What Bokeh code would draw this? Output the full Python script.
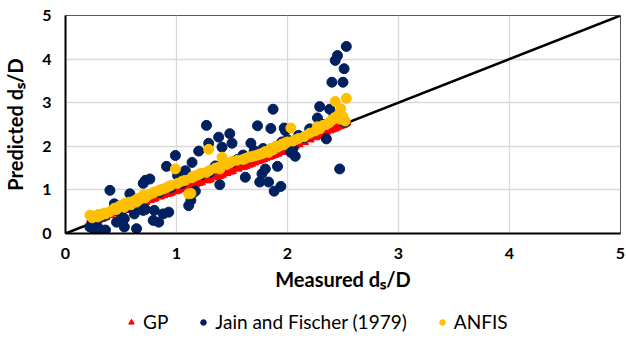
from bokeh.plotting import figure
from bokeh.layouts import column
from bokeh.models import Range1d, Legend, LegendItem, FixedTicker
from bokeh.embed import file_html
from bokeh.resources import INLINE

measured = [0.22, 0.24, 0.26, 0.29, 0.30, 0.32, 0.35, 0.36, 0.40, 0.44,
            0.46, 0.48, 0.50, 0.53, 0.53, 0.55, 0.58, 0.59, 0.62, 0.64,
            0.65, 0.67, 0.70, 0.70, 0.72, 0.72, 0.76, 0.79, 0.80, 0.84,
            0.85, 0.88, 0.91, 0.93, 0.95, 0.99, 1.01, 1.05, 1.08, 1.11,
            1.13, 1.14, 1.14, 1.17, 1.20, 1.22, 1.27, 1.29, 1.30, 1.35,
            1.38, 1.39, 1.41, 1.45, 1.48, 1.50, 1.55, 1.60, 1.62, 1.65,
            1.67, 1.70, 1.73, 1.75, 1.77, 1.78, 1.80, 1.83, 1.85, 1.87,
            1.88, 1.90, 1.91, 1.94, 1.95, 1.97, 1.98, 2.00, 2.03, 2.05,
            2.07, 2.10, 2.15, 2.20, 2.25, 2.27, 2.29, 2.32, 2.35, 2.38,
            2.40, 2.42, 2.43, 2.45, 2.47, 2.48, 2.50, 2.51, 2.52, 2.53]

jain_fischer = [0.15, 0.30, 0.08, 0.15, 0.35, 0.07, 0.40, 0.08, 0.99, 0.68,
                0.26, 0.55, 0.45, 0.34, 0.15, 0.60, 0.91, 0.60, 0.45, 0.11,
                0.75, 0.60, 1.15, 0.53, 1.22, 0.55, 1.25, 0.30, 0.53, 0.26,
                0.95, 0.45, 1.54, 0.49, 1.05, 1.79, 1.33, 1.15, 1.44, 0.64,
                0.76, 0.91, 1.63, 0.97, 1.89, 1.35, 2.48, 2.07, 1.40, 1.55,
                2.21, 1.12, 1.98, 1.60, 2.29, 2.07, 1.70, 1.80, 1.29, 1.75,
                2.07, 1.90, 2.47, 1.18, 1.37, 1.95, 1.48, 1.18, 2.41, 2.85,
                0.97, 2.00, 1.54, 1.08, 2.10, 2.42, 2.36, 2.15, 1.86, 1.95,
                1.77, 2.25, 2.20, 2.40, 2.35, 2.65, 2.91, 2.50, 2.17, 2.85,
                3.47, 2.70, 3.97, 4.08, 1.48, 2.60, 3.47, 3.78, 2.55, 4.29]

gp = [0.26, 0.27, 0.29, 0.31, 0.33, 0.34, 0.37, 0.38, 0.42, 0.46,
      0.47, 0.49, 0.51, 0.54, 0.55, 0.56, 0.59, 0.60, 0.63, 0.65,
      0.66, 0.68, 0.71, 0.72, 0.73, 0.74, 0.77, 0.80, 0.81, 0.85,
      0.86, 0.88, 0.91, 0.92, 0.94, 0.97, 0.99, 1.02, 1.05, 1.07,
      1.09, 1.10, 1.11, 1.13, 1.16, 1.18, 1.22, 1.24, 1.25, 1.29,
      1.32, 1.33, 1.35, 1.39, 1.42, 1.44, 1.49, 1.53, 1.55, 1.58,
      1.60, 1.63, 1.66, 1.68, 1.70, 1.71, 1.73, 1.76, 1.78, 1.80,
      1.81, 1.83, 1.84, 1.87, 1.89, 1.91, 1.92, 1.95, 1.98, 2.00,
      2.02, 2.05, 2.10, 2.16, 2.21, 2.24, 2.27, 2.30, 2.34, 2.37,
      2.39, 2.41, 2.42, 2.45, 2.47, 2.48, 2.50, 2.52, 2.53, 2.55]

anfis = [0.42, 0.36, 0.40, 0.38, 0.44, 0.42, 0.47, 0.45, 0.50, 0.58,
         0.55, 0.62, 0.64, 0.60, 0.68, 0.70, 0.72, 0.66, 0.75, 0.72,
         0.80, 0.78, 0.84, 0.88, 0.86, 0.82, 0.90, 0.93, 0.95, 0.98,
         1.00, 1.02, 1.05, 1.08, 1.10, 1.48, 1.15, 1.20, 1.22, 0.91,
         0.92, 1.28, 1.30, 1.32, 1.35, 1.38, 1.40, 1.93, 1.45, 1.50,
         1.52, 1.48, 1.75, 1.58, 1.62, 1.65, 1.68, 1.70, 1.72, 1.75,
         1.76, 1.78, 1.80, 1.82, 1.83, 1.85, 1.88, 1.86, 1.95, 1.92,
         1.97, 2.00, 1.98, 2.02, 2.05, 2.04, 2.08, 2.10, 2.42, 2.12,
         2.15, 2.18, 2.22, 2.30, 2.35, 2.45, 2.40, 2.48, 2.50, 2.55,
         2.60, 2.65, 3.03, 2.70, 2.62, 2.86, 2.68, 2.60, 2.58, 3.10]

line_x = [0, 5]
line_y = [0, 5]
ticks = [0, 1, 2, 3, 4, 5]
series_names = ["GP", "Jain and Fischer (1979)", "ANFIS"]
x_title = "Measured d\u209b/D"
y_title = "Predicted d\u209b/D"

FONT = "Lato"
RED, NAVY, GOLD = "#ff0000", "#002060", "#ffc000"

p = figure(width=626, height=300, output_backend="svg", toolbar_location=None,
           x_range=Range1d(0, 5), y_range=Range1d(0, 5),
           min_border_left=62, min_border_right=6, min_border_top=15,
           min_border_bottom=67)
p.background_fill_color = "white"
p.border_fill_color = "white"
p.outline_line_color = "#595959"
p.outline_line_width = 1

p.xgrid.grid_line_color = "#d9d9d9"
p.ygrid.grid_line_color = "#d9d9d9"
p.xgrid.grid_line_width = 1.3
p.ygrid.grid_line_width = 1.3

for ax in (p.xaxis[0], p.yaxis[0]):
    ax.ticker = FixedTicker(ticks=ticks)
    ax.axis_line_color = "black"
    ax.axis_line_width = 2
    ax.major_tick_line_color = None
    ax.minor_tick_line_color = None
    ax.major_label_text_font = FONT
    ax.major_label_text_font_style = "bold"
    ax.major_label_text_font_size = "16px"
    ax.major_label_text_color = "black"
    ax.axis_label_text_font = FONT
    ax.axis_label_text_font_style = "bold"
    ax.axis_label_text_font_size = "20px"
    ax.axis_label_text_color = "black"
p.xaxis.major_label_standoff = 8
p.yaxis.major_label_standoff = 8
p.xaxis.axis_label = x_title
p.yaxis.axis_label = y_title
p.xaxis.axis_label_standoff = 5
p.yaxis.axis_label_standoff = 12

p.line(line_x, line_y, line_color="black", line_width=2.5)

p.scatter(measured, gp, marker="triangle", size=9, fill_color=RED, line_color=RED)
p.scatter(measured, jain_fischer, marker="circle", size=10,
          fill_color=NAVY, line_color=NAVY)
p.scatter(measured, anfis, marker="circle", size=10,
          fill_color=GOLD, line_color=GOLD)

# legend strip below the chart (its sample markers sit outside the visible range)
q = figure(width=626, height=39, output_backend="svg", toolbar_location=None,
           x_range=Range1d(0, 1), y_range=Range1d(0, 1),
           x_axis_type=None, y_axis_type=None,
           min_border_left=0, min_border_right=0, min_border_top=0,
           min_border_bottom=0)
q.outline_line_color = None
q.xgrid.visible = False
q.ygrid.visible = False
q.background_fill_color = "white"
q.border_fill_color = "white"
off = [-10]
lg_gp = q.scatter(off, off, marker="triangle", size=8, fill_color=RED, line_color=RED)
lg_jf = q.scatter(off, off, marker="circle", size=9, fill_color=NAVY, line_color=NAVY)
lg_an = q.scatter(off, off, marker="circle", size=9, fill_color=GOLD, line_color=GOLD)

legend = Legend(items=[LegendItem(label=series_names[0], renderers=[lg_gp]),
                       LegendItem(label=series_names[1], renderers=[lg_jf]),
                       LegendItem(label=series_names[2], renderers=[lg_an])],
                orientation="horizontal", location=(59, 6),
                glyph_width=14, glyph_height=14, label_standoff=5, spacing=28,
                label_height=20, padding=0, margin=0, border_line_color=None,
                background_fill_alpha=0,
                label_text_font=FONT, label_text_font_size="19px",
                label_text_color="black")
q.add_layout(legend, "center")

layout = column(p, q, spacing=0)
open("out.html", "w").write(file_html(layout, INLINE))
